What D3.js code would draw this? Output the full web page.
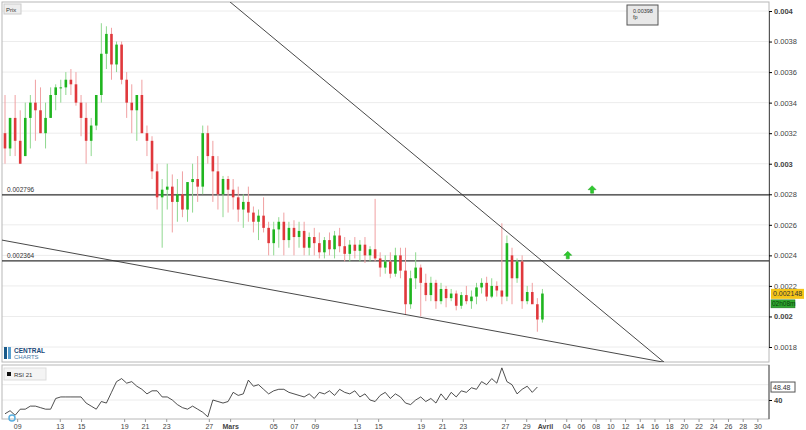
<!DOCTYPE html>
<html><head><meta charset="utf-8">
<script src="https://cdn.jsdelivr.net/npm/d3@7"></script>
<style>body{margin:0;background:#fff;font-family:Arial,"Liberation Sans",sans-serif}</style>
</head><body><svg id="chart" width="806" height="430"></svg>
<script>
// prix en unités de 1e-5 : [open, high, low, close]
const candles = [
 [320,345,300,310],[310,330,305,330],[330,345,305,315],[315,335,300,300],[305,340,305,330],[330,345,310,340],[340,355,315,335],[335,350,320,320],[320,340,310,330],
 [330,350,330,345],[345,352,335,350],[350,355,340,350],[350,360,345,355],[355,362,345,352],[352,360,338,340],
 [340,345,318,330],[330,340,300,315],[315,330,305,325],[325,345,322,345],
 [345,392,340,372],[372,390,362,385],[385,389,355,365],[365,380,360,378],[378,380,352,355],
 [355,360,330,340],[340,352,320,335],[335,345,315,345],[345,355,320,320],[320,325,305,315],
 [315,318,290,295],[295,300,270,278],[278,290,245,283],[283,300,270,285],[285,293,255,275],
 [275,290,262,280],[280,295,265,270],[270,285,262,288],[288,300,268,290],[290,305,275,285],
 [285,325,280,320],[320,325,300,305],[305,315,275,295],[295,305,270,280],[280,292,265,290],
 [290,292,268,283],[283,290,270,278],[278,285,262,270],[270,280,258,275],[275,285,262,268],
 [268,272,255,262],[262,270,250,266],[266,278,255,258],[258,262,240,248],[248,262,240,257],
 [257,265,245,262],[262,268,240,250],[250,262,245,258],[258,263,240,252],[252,262,245,256],
 [256,262,240,245],[245,255,240,252],[252,258,240,248],[248,255,238,242],[242,252,238,250],
 [250,255,240,244],[244,256,238,253],[253,258,242,246],[246,252,236,241],[241,250,236,247],
 [247,252,238,243],[243,250,236,247],[247,252,235,240],[240,246,236,244],[244,277,236,238],
 [238,242,226,232],[232,240,228,236],[236,242,225,228],[228,245,226,240],[240,245,225,230],
 [230,245,201,208],[208,230,205,225],[225,242,218,232],[232,234,200,222],[222,228,210,214],
 [214,226,210,222],[222,224,205,210],[210,222,208,218],[218,220,206,212],[212,218,210,215],
 [215,217,204,207],[207,216,205,214],[214,220,208,210],[210,217,205,213],[213,222,208,219],
 [219,225,215,222],[222,226,210,213],[213,225,212,220],[220,223,213,217],[217,261,208,213],
 [213,253,210,248],[240,245,208,225],[225,238,222,236],[236,240,205,210],[210,220,208,216],
 [216,222,212,208],[208,212,190,198],[198,218,196,215]
];
const rsi = [
 31,33,30,34,34,36,36,35,34,34,41,42,42,42,42,42,38,36,34,39,38,45,52,54,51,52,49,47,44,46,
 46,42,42,40,37,35,34,36,34,32,29,40,39,38,39,45,43,44,53,49,50,47,44,46,47,47,45,44,43,42,
 44,41,45,44,46,43,47,45,44,46,42,44,40,39,43,45,41,44,42,38,37,40,42,39,41,38,44,40,45,42,
 46,45,48,47,52,50,54,51,61,52,50,44,47,49,45,48.48
];
const hLevels = [0.002796, 0.002364];
// lignes de tendance : [indice bougie, prix]
const trendUp = [[44, 0.00407], [130, 0.0017]];
const trendDown = [[-0.6, 0.0025], [130, 0.0017]];
const priceTicks = [0.004, 0.0038, 0.0036, 0.0034, 0.0032, 0.003, 0.0028, 0.0026, 0.0024, 0.0022, 0.002, 0.0018];
const dateTicks = [[2.4,"09"],[10.8,"13"],[15,"15"],[23.5,"19"],[27.6,"21"],[31.8,"23"],[40.2,"27"],[44.4,"Mars"],
 [52.9,"05"],[57,"07"],[61.1,"09"],[69.4,"13"],[73.6,"15"],[82,"19"],[86.2,"21"],[90.3,"23"],[98.6,"27"],[102.8,"29"],
 [106.5,"Avril"],[110.7,"04"],[113.6,"06"],[116.5,"08"],[119.4,"10"],[122.3,"12"],[125.2,"14"],[128.1,"16"],[131,"18"],
 [133.9,"20"],[136.8,"22"],[139.7,"24"],[142.6,"26"],[145.5,"28"],[148.4,"30"]];
const lastPrice = 0.002148;

const svg = d3.select('#chart');
const L = 2, R = 769, T = 2, B = 362;
const x = d3.scaleLinear().domain([0, 1]).range([5, 10.07]);
const y = d3.scaleLinear().domain([0.0018, 0.004]).range([347, 11]);
const yr = d3.scaleLinear().domain([40, 50]).range([400, 384.7]);

svg.append('defs').append('clipPath').attr('id','main').append('rect')
  .attr('x', L).attr('y', T).attr('width', R - L).attr('height', B - T);
svg.append('defs').append('clipPath').attr('id','rsiclip').append('rect')
  .attr('x', L).attr('y', 366).attr('width', R - L).attr('height', 53);

// grille
svg.append('g').selectAll('line').data(priceTicks).enter().append('line')
  .attr('x1', L).attr('x2', R).attr('y1', d => y(d)).attr('y2', d => y(d))
  .attr('stroke', '#ececec');
svg.append('g').selectAll('line').data([40, 50]).enter().append('line')
  .attr('x1', L).attr('x2', R).attr('y1', d => yr(d)).attr('y2', d => yr(d))
  .attr('stroke', '#ececec');

// cadres
svg.append('rect').attr('x', L).attr('y', T).attr('width', R - L).attr('height', B - T)
  .attr('fill', 'none').attr('stroke', '#b8b8b8');
svg.append('rect').attr('x', L).attr('y', 365).attr('width', R - L).attr('height', 54)
  .attr('fill', 'none').attr('stroke', '#b8b8b8');

// axe des prix
const ya = svg.append('g').attr('transform', `translate(${R},0)`)
  .call(d3.axisRight(y).tickValues(priceTicks).tickSize(3).tickFormat(d => String(+d.toFixed(4))));
ya.select('.domain').attr('stroke', '#555');
ya.selectAll('text').attr('fill', '#444').attr('font-size', 7.5).attr('x', 5)
  .attr('font-weight', d => [0.004, 0.003, 0.002].includes(d) ? 'bold' : 'normal');
const ra = svg.append('g').attr('transform', `translate(${R},0)`)
  .call(d3.axisRight(yr).tickValues([40]).tickSize(3));
ra.select('.domain').attr('stroke', '#555').attr('d', 'M0,365V419');
ra.selectAll('text').attr('fill', '#444').attr('font-size', 7.5).attr('font-weight', 'bold').attr('x', 5);

// axe des dates
const xa = svg.append('g').attr('transform', 'translate(0,419)')
  .call(d3.axisBottom(x).tickValues(dateTicks.map(d => d[0])).tickSize(3)
    .tickFormat((d, i) => dateTicks[i][1]));
xa.select('.domain').remove();
xa.selectAll('line').attr('stroke', '#999');
xa.selectAll('text').attr('fill', '#444').attr('font-size', 7).attr('dy', '0.5em')
  .attr('font-weight', (d, i) => /[a-z]/.test(dateTicks[i][1]) ? 'bold' : 'normal');

// niveaux horizontaux
const lv = svg.append('g');
lv.selectAll('line').data(hLevels).enter().append('line')
  .attr('x1', L).attr('x2', R).attr('y1', d => y(d)).attr('y2', d => y(d))
  .attr('stroke', '#333').attr('stroke-width', 1.4);
lv.selectAll('text').data(hLevels).enter().append('text')
  .attr('x', 7).attr('y', d => y(d) - 3).attr('font-size', 6.5).attr('fill', '#333').text(d => d);

// bougies
const cg = svg.append('g').attr('clip-path', 'url(#main)');
const col = d => d[3] >= d[0] ? '#1fb51f' : '#e0383c';
const wcol = d => d[3] >= d[0] ? '#8fd88f' : '#f0a0a2';
cg.selectAll('line.wick').data(candles).enter().append('line')
  .attr('x1', (d, i) => x(i)).attr('x2', (d, i) => x(i))
  .attr('y1', d => y(d[1] * 1e-5)).attr('y2', d => y(d[2] * 1e-5))
  .attr('stroke', wcol).attr('stroke-width', 1);
cg.selectAll('rect.body').data(candles).enter().append('rect')
  .attr('x', (d, i) => x(i) - 1.3).attr('width', 2.6)
  .attr('y', d => y(Math.max(d[0], d[3]) * 1e-5))
  .attr('height', d => Math.max(1, Math.abs(y(d[0] * 1e-5) - y(d[3] * 1e-5))))
  .attr('fill', col);

// tendances
[trendUp, trendDown].forEach(t => {
  cg.append('line').attr('x1', x(t[0][0])).attr('y1', y(t[0][1]))
    .attr('x2', x(t[1][0])).attr('y2', y(t[1][1])).attr('stroke', '#333').attr('stroke-width', 0.9);
});

// flèches vertes
const arrows = [[115.8, 0.00283], [111, 0.00240]];
svg.selectAll('path.arr').data(arrows).enter().append('path')
  .attr('transform', d => `translate(${x(d[0])},${y(d[1])})`)
  .attr('d', 'M0,-4L4,0L1.5,0L1.5,3.5L-1.5,3.5L-1.5,0L-4,0Z')
  .attr('fill', '#2ecc2e').attr('stroke', '#1a9a1a').attr('stroke-width', 0.5);

// RSI
const rg = svg.append('g').attr('clip-path', 'url(#rsiclip)');
rg.append('path').datum(rsi).attr('fill', 'none').attr('stroke', '#222').attr('stroke-width', 0.8)
  .attr('d', d3.line().x((d, i) => x(i)).y(d => yr(d)));
svg.append('circle').attr('cx', 12).attr('cy', 418).attr('r', 3).attr('fill', 'none')
  .attr('stroke', '#5ab0e0').attr('stroke-width', 1.5);

// légendes
svg.append('rect').attr('x', 4).attr('y', 4).attr('width', 17).attr('height', 10)
  .attr('fill', '#eee').attr('stroke', '#ccc');
svg.append('text').attr('x', 6).attr('y', 12).attr('font-size', 6).attr('fill', '#333').text('Prix');
svg.append('rect').attr('x', 4).attr('y', 368).attr('width', 42).attr('height', 12)
  .attr('fill', '#f4f4f4').attr('stroke', '#ddd');
svg.append('rect').attr('x', 7).attr('y', 372).attr('width', 4).attr('height', 4).attr('fill', '#111');
svg.append('text').attr('x', 14).attr('y', 377).attr('font-size', 6).attr('fill', '#333').text('RSI 21');

svg.append('rect').attr('x', 627).attr('y', 5).attr('width', 31).attr('height', 20)
  .attr('fill', '#e8e8e8').attr('stroke', '#555');
svg.append('text').attr('x', 633).attr('y', 13).attr('font-size', 5.5).attr('fill', '#333').text('0.00398');
svg.append('text').attr('x', 633).attr('y', 19).attr('font-size', 5.5).attr('fill', '#333').text('fp');

// étiquettes de dernier prix
svg.append('rect').attr('x', 771).attr('y', y(lastPrice) - 5).attr('width', 33).attr('height', 10).attr('fill', '#f5c518');
svg.append('text').attr('x', 773).attr('y', y(lastPrice) + 2.5).attr('font-size', 7).attr('fill', '#333').text(lastPrice);
svg.append('rect').attr('x', 771).attr('y', y(lastPrice) + 6).attr('width', 24).attr('height', 8)
  .attr('fill', '#2fa82f').attr('stroke', '#1a6a1a').attr('stroke-width', 0.5);
svg.append('text').attr('x', 772).attr('y', y(lastPrice) + 12.5).attr('font-size', 6.5).attr('fill', '#0b3b0b').text('02h08m');
svg.append('rect').attr('x', 771).attr('y', yr(48.48) - 5).attr('width', 24).attr('height', 10)
  .attr('fill', '#fff').attr('stroke', '#555');
svg.append('text').attr('x', 773).attr('y', yr(48.48) + 2.5).attr('font-size', 7).attr('fill', '#333').text('48.48');

// logo
const lg = svg.append('g').attr('transform', 'translate(4,347)');
lg.append('rect').attr('width', 3).attr('height', 12).attr('fill', '#1a5a8a');
lg.append('rect').attr('x', 4).attr('width', 3).attr('height', 12).attr('fill', '#5aa0d0');
lg.append('text').attr('x', 10).attr('y', 6).attr('font-size', 6.5).attr('font-weight', 'bold').attr('fill', '#1a4a7a').text('CENTRAL');
lg.append('text').attr('x', 10).attr('y', 12).attr('font-size', 6).attr('fill', '#4a7aa8').text('CHARTS');
</script></body></html>
